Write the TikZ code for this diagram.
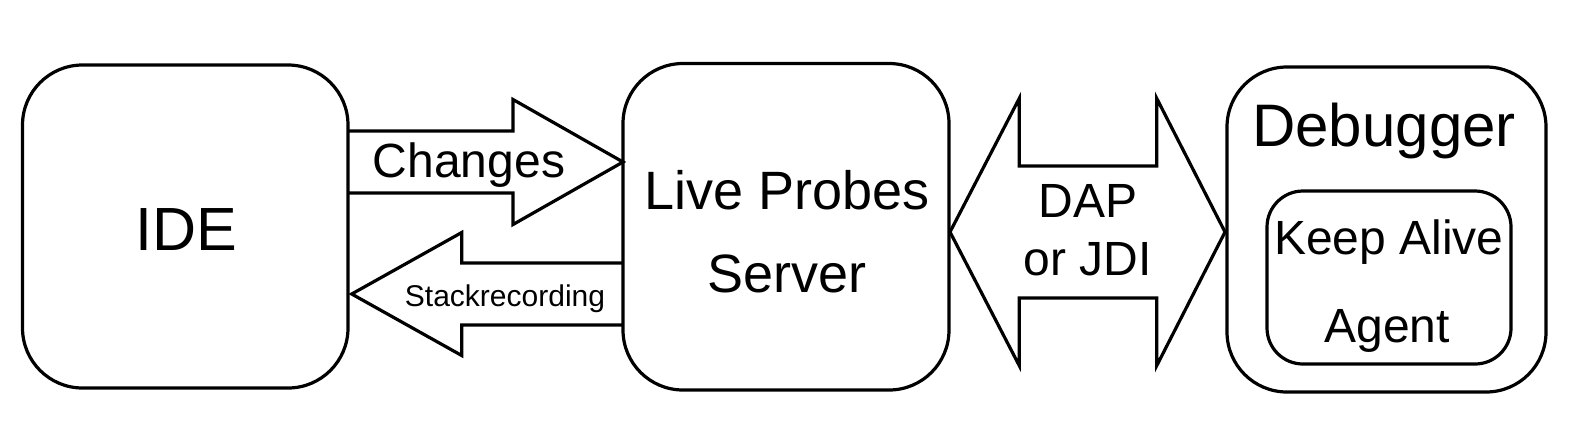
\documentclass[tikz,border=0pt]{standalone}
\usepackage{fontspec}
\setmainfont{Liberation Sans}
\begin{document}
\begin{tikzpicture}[x=0.5pt,y=-0.5pt,
  line width=1.6pt,
  box/.style={draw, line width=1.6pt, rounded corners=30pt, inner sep=0pt, outer sep=0pt},
  innerbox/.style={draw, line width=1.6pt, rounded corners=18pt, inner sep=0pt, outer sep=0pt},
  blockarrow/.style={draw, line width=1.6pt, miter limit=10},
  lbl/.style={anchor=base, inner sep=0pt, outer sep=0pt},
  fxl/.style={font=\fontsize{30.5}{36}\selectfont},
  fl/.style={font=\fontsize{30}{35}\selectfont},
  fm/.style={font=\fontsize{27}{32}\selectfont},
  fs/.style={font=\fontsize{24}{29}\selectfont},
  fxs/.style={font=\fontsize{15}{18}\selectfont}
]
\useasboundingbox (0,0) rectangle (1578,436);

% boxes
\node[box, minimum width=162.75pt, minimum height=161.5pt] (ide) at (185.25,226.5) {};
\node[box, minimum width=163pt, minimum height=163.25pt] (live) at (786,226.75) {};
\node[box, minimum width=159.5pt, minimum height=162.5pt] (dbg) at (1386.5,229.5) {};
\node[innerbox, minimum width=122pt, minimum height=86.5pt] (keep) at (1389,277.5) {};

% block arrow: Changes (IDE -> Live)
\draw[blockarrow] (ide.east |- 0,131) -- (513,131) -- (513,99.5) -- (live.west |- 0,162)
  -- (513,224.5) -- (513,193) -- (ide.east |- 0,193);
% block arrow: Stackrecording (Live -> IDE)
\draw[blockarrow] (live.west |- 0,263) -- (461.7,263) -- (461.7,232.5) -- (351.7,294)
  -- (461.7,355.5) -- (461.7,325) -- (live.west |- 0,325);
% double block arrow: DAP or JDI (Live <-> Debugger)
\draw[blockarrow] (950,232) -- (1019.3,98.3) -- (1019.3,166) -- (1156.7,166) -- (1156.7,98.3)
  -- (1225,232) -- (1156.7,365.7) -- (1156.7,298) -- (1019.3,298) -- (1019.3,365.7) -- cycle;

% labels
\node[lbl, fxl] (tide) at (186,250) {IDE};
\node[lbl, fm] (tlive1) at (787,209.5) {Live Probes};
\node[lbl, fm] (tlive2) at (787,292) {Server};
\node[lbl, fl] (tdbg) at (1384,146) {Debugger};
\node[lbl, fs] (tkeep1) at (1389,254) {Keep Alive};
\node[lbl, fs] (tkeep2) at (1387,342) {Agent};
\node[lbl, fs] (tchg) at (469,177) {Changes};
\node[lbl, fxs] (tstack) at (505,306) {Stackrecording};
\node[lbl, fs] (tdap1) at (1088,217) {DAP};
\node[lbl, fs] (tdap2) at (1087.5,275) {or JDI};
\end{tikzpicture}
\end{document}
